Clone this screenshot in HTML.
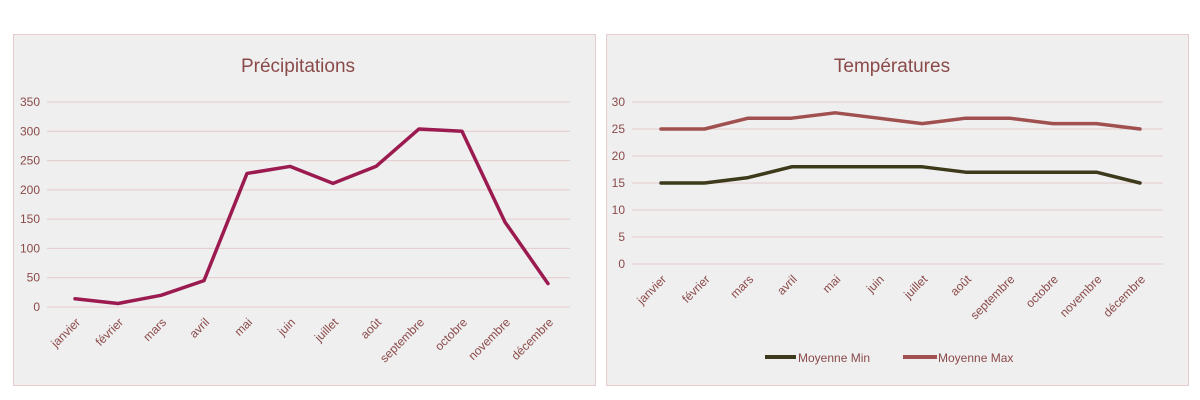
<!DOCTYPE html>
<html><head><meta charset="utf-8">
<style>
html,body{margin:0;padding:0;background:#fff;width:1200px;height:400px;overflow:hidden}
svg text{font-family:"Liberation Sans",sans-serif;fill:#8b4a4a}
</style></head>
<body>
<svg id="svg" width="1200" height="400" xmlns="http://www.w3.org/2000/svg">
<rect x="13.5" y="34.5" width="582" height="351" fill="#efefef" stroke="#e6cccc"/>
<rect x="606.5" y="34.5" width="582" height="351" fill="#efefef" stroke="#e6cccc"/>
<text x="298" y="72" font-size="19" text-anchor="middle">Précipitations</text>
<text x="892" y="72" font-size="19" text-anchor="middle">Températures</text>
<g id="g1"></g><g id="g2"></g>
<g>
<line x1="765" y1="357" x2="796" y2="357" stroke="#3d3a1c" stroke-width="4"/>
<text x="798" y="362" font-size="12">Moyenne Min</text>
<line x1="903" y1="357" x2="937" y2="357" stroke="#a0504f" stroke-width="4"/>
<text x="938" y="362" font-size="12">Moyenne Max</text>
</g>
</svg>
<script>
const months=["janvier","février","mars","avril","mai","juin","juillet","août","septembre","octobre","novembre","décembre"];
const precip=[14,6,20,45,228,240,211,240,304,300,145,40];
const tempMax=[25,25,27,27,28,27,26,27,27,26,26,25];
const tempMin=[15,15,16,18,18,18,18,17,17,17,17,15];
const precipTicks=[0,50,100,150,200,250,300,350];
const tempTicks=[0,5,10,15,20,25,30];
const NS="http://www.w3.org/2000/svg";
function mk(t,a,p){const e=document.createElementNS(NS,t);for(const k in a)e.setAttribute(k,a[k]);p.appendChild(e);return e;}
function chart(g,cfg){
  const y=v=>cfg.y0-(v-cfg.min)/(cfg.max-cfg.min)*(cfg.y0-cfg.y1);
  const x=i=>cfg.xa+i*(cfg.xb-cfg.xa)/(months.length-1);
  cfg.ticks.forEach(t=>{
    const l=mk("line",{x1:cfg.gx0,x2:cfg.gx1,y1:y(t),y2:y(t),stroke:"#e3cbcb","stroke-width":1},g);
    
    
    const tx=mk("text",{x:cfg.lx,y:y(t)+4,"font-size":12,"text-anchor":"end"},g);
    tx.textContent=t;
    
    
  });
  months.forEach((m,i)=>{
    const px=x(i)+6,py=cfg.y0+16;
    const tx=mk("text",{x:px,y:py,"font-size":12,"text-anchor":"end",transform:`rotate(-45 ${px} ${py})`},g);
    tx.textContent=m;
    
    
  });
  cfg.series.forEach(s=>{
    const p=mk("polyline",{points:s.data.map((v,i)=>x(i)+","+y(v)).join(" "),fill:"none",stroke:s.color,"stroke-width":3.5,"stroke-linejoin":"round","stroke-linecap":"round"},g);
    
    
  });
}
chart(document.getElementById("g1"),{min:0,max:350,y0:307,y1:102,xa:75,xb:548,gx0:47,gx1:570,lx:40,ticks:precipTicks,series:[{data:precip,color:"#9b1b50",name:"precip-line"}]});
chart(document.getElementById("g2"),{min:0,max:30,y0:264,y1:102,xa:661,xb:1140,gx0:632,gx1:1163,lx:625,ticks:tempTicks,series:[{data:tempMin,color:"#3d3a1c",name:"temp-min-line"},{data:tempMax,color:"#a0504f",name:"temp-max-line"}]});
</script>
</body></html>
